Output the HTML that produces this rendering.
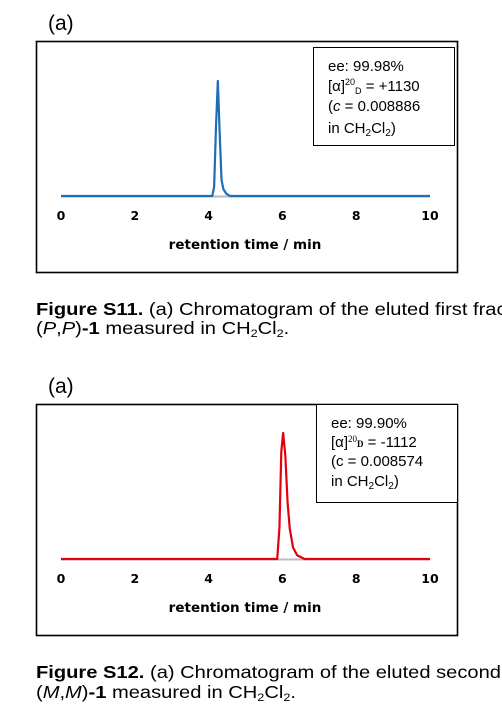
<!DOCTYPE html>
<html><head><meta charset="utf-8"><style>
html,body{margin:0;padding:0;background:#fff;overflow:hidden;}
svg{display:block;font-family:"Liberation Sans",sans-serif;}
.tick{font-family:"DejaVu Sans",sans-serif;font-weight:bold;font-size:12.5px;}
.ttl{font-family:"DejaVu Sans",sans-serif;font-weight:bold;font-size:13.5px;}
</style></head><body>
<svg id="root" width="502" height="717" viewBox="0 0 502 717">
<!-- chart 1 -->
<text x="48" y="30" font-size="21">(a)</text>
<rect x="36.5" y="41.5" width="421" height="231" fill="none" stroke="#000" stroke-width="1.6"/>
<rect x="313.5" y="47.5" width="141" height="98" fill="#fff" stroke="#000" stroke-width="1"/>
<g font-size="15">
<text x="328" y="71">ee: 99.98%</text>
<text x="328" y="91">[α]<tspan font-size="9" dy="-6">20</tspan><tspan font-size="9" dy="9">D</tspan><tspan dy="-3"> = +1130</tspan></text>
<text x="328" y="111">(<tspan font-style="italic">c</tspan> = 0.008886</text>
<text x="328" y="133">in CH<tspan font-size="10" dy="3">2</tspan><tspan dy="-3">Cl</tspan><tspan font-size="10" dy="3">2</tspan><tspan dy="-3">)</tspan></text>
</g>
<g id="c1"></g>
<text x="245" y="249" text-anchor="middle" class="ttl">retention time / min</text>
<g font-size="17.5" transform="translate(36 0) scale(1.15 1) translate(-36 0)">
<text x="36" y="315"><tspan font-weight="bold">Figure S11.</tspan> (a) Chromatogram of the eluted first fraction of</text>
<text x="36" y="334">(<tspan font-style="italic">P</tspan>,<tspan font-style="italic">P</tspan>)<tspan font-weight="bold">-1</tspan> measured in CH<tspan font-size="11" dy="3">2</tspan><tspan dy="-3">Cl</tspan><tspan font-size="11" dy="3">2</tspan><tspan dy="-3">.</tspan></text>
</g>
<!-- chart 2 -->
<text x="48" y="393" font-size="21">(a)</text>
<rect x="36.5" y="404.5" width="421" height="231" fill="none" stroke="#000" stroke-width="1.6"/>
<rect x="316.5" y="404.5" width="141" height="98" fill="#fff" stroke="#000" stroke-width="1"/>
<g font-size="15">
<text x="331" y="428">ee: 99.90%</text>
<text x="331" y="447">[α]<tspan font-size="9" dy="-5" font-family="Liberation Serif">20</tspan><tspan font-size="9" font-weight="bold" font-family="Liberation Serif" dy="5">D</tspan> = -1112</text>
<text x="331" y="466">(c = 0.008574</text>
<text x="331" y="486">in CH<tspan font-size="10" dy="3">2</tspan><tspan dy="-3">Cl</tspan><tspan font-size="10" dy="3">2</tspan><tspan dy="-3">)</tspan></text>
</g>
<g id="c2"></g>
<text x="245" y="612" text-anchor="middle" class="ttl">retention time / min</text>
<g font-size="17.5" transform="translate(36 0) scale(1.15 1) translate(-36 0)">
<text x="36" y="678"><tspan font-weight="bold">Figure S12.</tspan> (a) Chromatogram of the eluted second fraction of</text>
<text x="36" y="698">(<tspan font-style="italic">M</tspan>,<tspan font-style="italic">M</tspan>)<tspan font-weight="bold">-1</tspan> measured in CH<tspan font-size="11" dy="3">2</tspan><tspan dy="-3">Cl</tspan><tspan font-size="11" dy="3">2</tspan><tspan dy="-3">.</tspan></text>
</g>
</svg>
<script>
const tickLabels = [0, 2, 4, 6, 8, 10];
const times1 = [0, 4.10, 4.15, 4.20, 4.25, 4.30, 4.35, 4.40, 4.48, 4.58, 10];
const signal1 = [0, 0, 8, 60, 100, 55, 14, 6, 2, 0, 0];
const times2 = [0, 5.86, 5.92, 5.97, 6.02, 6.08, 6.14, 6.20, 6.29, 6.40, 6.60, 10];
const signal2 = [0, 0, 25, 85, 100, 82, 45, 24, 9, 3, 0, 0];
const NS = "http://www.w3.org/2000/svg";
function draw(gid, times, sig, baseY, topY, color, tickY) {
  const g = document.getElementById(gid);
  const x = t => 61 + t * 36.9;
  const y = v => baseY - v / 100 * (baseY - topY);
  const base = document.createElementNS(NS, "line");
  base.setAttribute("x1", x(0)); base.setAttribute("x2", x(10));
  base.setAttribute("y1", baseY + 0.5); base.setAttribute("y2", baseY + 0.5);
  base.setAttribute("stroke", "#bbb"); base.setAttribute("stroke-width", "2");
  
  
  g.appendChild(base);
  const p = document.createElementNS(NS, "polyline");
  p.setAttribute("points", times.map((t, i) => x(t) + "," + y(sig[i])).join(" "));
  p.setAttribute("fill", "none"); p.setAttribute("stroke", color);
  p.setAttribute("stroke-width", "2.2"); p.setAttribute("stroke-linejoin", "round");
  
  
  g.appendChild(p);
  tickLabels.forEach(v => {
    const t = document.createElementNS(NS, "text");
    t.setAttribute("x", x(v)); t.setAttribute("y", tickY);
    t.setAttribute("text-anchor", "middle"); t.setAttribute("class", "tick");
    t.textContent = v;
    
    
    g.appendChild(t);
  });
}
draw("c1", times1, signal1, 196, 81, "#1f6db3", 220);
draw("c2", times2, signal2, 559, 433, "#e3000f", 583);
</script>
</body></html>
